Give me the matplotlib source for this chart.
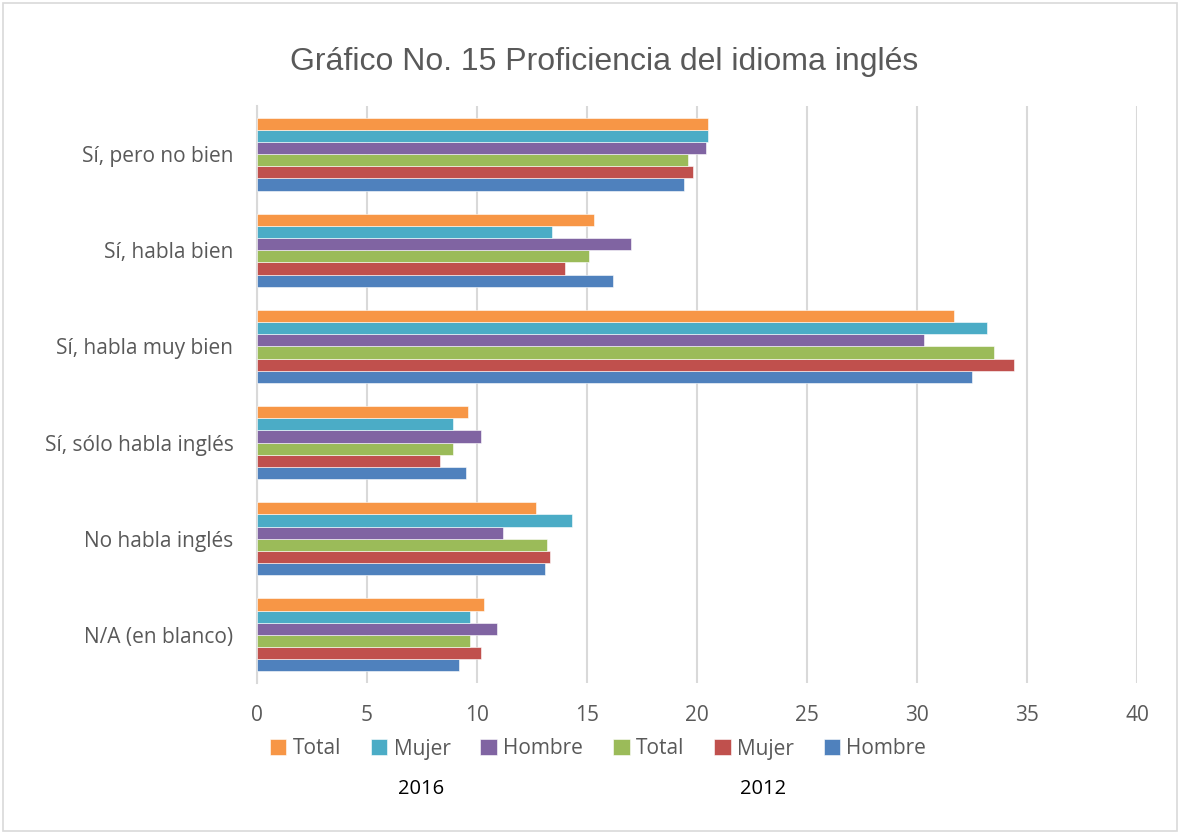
import matplotlib
matplotlib.use("Agg")
import matplotlib.pyplot as plt
import numpy as np
from matplotlib.patches import Rectangle

categories = ["Sí, pero no bien", "Sí, habla bien", "Sí, habla muy bien",
              "Sí, sólo habla inglés", "No habla inglés", "N/A (en blanco)"]

hombre_2012 = [19.4, 16.2, 32.5, 9.5, 13.1, 9.2]
mujer_2012 = [19.8, 14.0, 34.4, 8.3, 13.3, 10.2]
total_2012 = [19.6, 15.1, 33.5, 8.9, 13.2, 9.7]
hombre_2016 = [20.4, 17.0, 30.3, 10.2, 11.2, 10.9]
mujer_2016 = [20.5, 13.4, 33.2, 8.9, 14.3, 9.7]
total_2016 = [20.5, 15.3, 31.7, 9.6, 12.7, 10.3]

series_labels = ["Hombre", "Mujer", "Total", "Hombre", "Mujer", "Total"]
series_values = [hombre_2012, mujer_2012, total_2012, hombre_2016, mujer_2016, total_2016]
series_colors = ["#4F81BD", "#C0504D", "#9BBB59", "#8064A2", "#4BACC6", "#F79646"]
xticks = [0, 5, 10, 15, 20, 25, 30, 35, 40]

fig = plt.figure(figsize=(11.8, 8.34), dpi=100)
W, H = 1180, 834
ax = fig.add_axes([257 / W, 1 - 683 / H, (1137 - 257) / W, (683 - 106) / H])

n = len(series_values)
group_h = 0.76
bh = group_h / n
ypos = np.arange(len(categories))[::-1]
handles = []
for i, (vals, col, lab) in enumerate(zip(series_values, series_colors, series_labels)):
    offs = -group_h / 2 + bh * (i + 0.5)
    b = ax.barh(ypos + offs, vals, height=bh, color=col, label=lab,
                edgecolor="white", linewidth=0.4, zorder=3)
    handles.append(b)

ax.set_ylim(-0.5, len(categories) - 0.5)
ax.set_xlim(0, 40)
ax.set_xticks(xticks)
ax.set_xticklabels([str(t) for t in xticks])
ax.set_yticks(ypos)
ax.set_yticklabels(categories)
ax.grid(axis="x", color="#D9D9D9", linewidth=1.5, zorder=0)
for s in ["top", "right", "bottom"]:
    ax.spines[s].set_visible(False)
ax.spines["left"].set_color("#D9D9D9")
ax.spines["left"].set_linewidth(1.5)
ax.tick_params(axis="both", length=0, labelsize=15, labelcolor="#595959")
ax.tick_params(axis="y", pad=17)
ax.tick_params(axis="x", pad=16)
for lbl in ax.get_xticklabels() + ax.get_yticklabels():
    lbl.set_fontfamily("Open Sans")

fig.text(604 / W, 1 - 62 / H, "Gráfico No. 15 Proficiencia del idioma inglés",
         ha="center", va="center", fontsize=23, color="#595959", family="Liberation Sans")

leg = fig.legend(handles[::-1], series_labels[::-1], loc="center",
                 bbox_to_anchor=(598 / W, 1 - 749 / H), ncol=6, frameon=False,
                 handlelength=0.8, handleheight=0.8, handletextpad=0.3,
                 columnspacing=1.43, prop={"family": "Open Sans", "size": 15})
for t in leg.get_texts():
    t.set_color("#595959")

fig.text(421 / W, 1 - 789 / H, "2016", ha="center", va="center", fontsize=14.5,
         color="black", family="Open Sans")
fig.text(763 / W, 1 - 789 / H, "2012", ha="center", va="center", fontsize=14.5,
         color="black", family="Open Sans")

fig.patches.append(Rectangle((3 / W, 3 / H), 1 - 6 / W, 1 - 6 / H, transform=fig.transFigure,
                             fill=False, edgecolor="#D9D9D9", linewidth=1.2))

fig.savefig("out.png", dpi=100)
